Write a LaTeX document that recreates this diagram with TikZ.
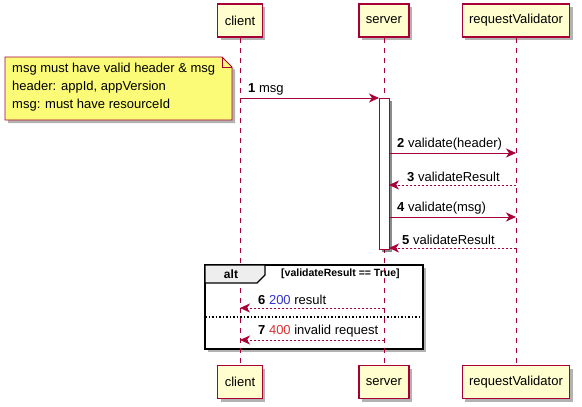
\documentclass[tikz,border=0pt]{standalone}
\usepackage{fontspec}
\setmainfont{Liberation Sans}
\usetikzlibrary{arrows.meta,shadows,calc}
\definecolor{umlRed}{HTML}{A80036}
\definecolor{umlBox}{HTML}{FEFECE}
\definecolor{umlNote}{HTML}{FBFB77}
\definecolor{umlTab}{HTML}{EEEEEE}
\definecolor{okBlue}{HTML}{3333CC}
\definecolor{errRed}{HTML}{DD3333}

\tikzset{
  umlshadow/.style={drop shadow={shadow xshift=3pt,shadow yshift=-3pt,opacity=0.3,fill=black}},
  partbox/.style={draw=umlRed,line width=1.2,fill=umlBox,minimum height=33,inner xsep=7,inner ysep=0,
    font=\fontsize{13}{15}\selectfont,umlshadow},
  lifeline/.style={umlRed,line width=0.8,dash pattern=on 5 off 5},
  callmsg/.style={umlRed,line width=0.9,-{Stealth[length=10,width=9,inset=3]}},
  retmsg/.style={callmsg,dash pattern=on 2 off 2},
  msglabel/.style={anchor=south west,inner sep=1,font=\fontsize{13}{15}\selectfont},
}

\begin{document}
\begin{tikzpicture}[x=1pt,y=-1pt]
\useasboundingbox (0,0) rectangle (582,407);

% alt frame (under the lifelines)
\draw [line width=1.5,fill=white,umlshadow] (205,265) rectangle (423,349);

% participants, top and bottom
\node [partbox] (client) at (240,20.5) {client};
\node [partbox] (server) at (384,20.5) {server};
\node [partbox] (validator) at (516,20.5) {requestValidator};
\node [partbox] (clientB) at (240,382) {client};
\node [partbox] (serverB) at (384,382) {server};
\node [partbox] (validatorB) at (516,382) {requestValidator};

% lifelines
\draw [lifeline] (client.south) -- (clientB.north);
\draw [lifeline] (server.south) -- (serverB.north);
\draw [lifeline] (validator.south) -- (validatorB.north);

% note
\draw [umlRed,line width=0.8,fill=umlNote,umlshadow] (5,57) -- (222,57) -- (232,67) -- (232,120) -- (5,120) -- cycle;
\draw [umlRed,line width=0.8] (222,57) -- (222,67) -- (232,67);
\node [anchor=north west,inner sep=0,align=left,font=\fontsize{13}{18}\selectfont] (note) at (12,63)
  {msg must have valid header \& msg\\header: appId, appVersion\\msg: must have resourceId};

% activation of server
\node [draw=umlRed,line width=0.9,fill=white,minimum width=10,minimum height=151,inner sep=0,
  drop shadow={shadow xshift=3pt,shadow yshift=-3pt,opacity=0.45,fill=black}] (act) at (384,173.5) {};

% message ends
\coordinate (c1) at (240,98);
\coordinate (s1) at (379,98);
\coordinate (s2) at (389,153);
\coordinate (v2) at (516,153);
\coordinate (s3) at (389,185);
\coordinate (v3) at (516,185);
\coordinate (s4) at (389,217);
\coordinate (v4) at (516,217);
\coordinate (s5) at (389,248);
\coordinate (v5) at (516,248);
\coordinate (s6) at (384,308);
\coordinate (c6) at (240,308);
\coordinate (s7) at (384,340);
\coordinate (c7) at (240,340);

% alt tab, guard and separator
\draw [line width=1.2,fill=umlTab] (205,265) -- (265,265) -- (265,275) -- (257,283) -- (205,283) -- cycle;
\node [inner sep=0,font=\bfseries\fontsize{12}{14}\selectfont] (altlabel) at (231,274) {alt};
\node [anchor=west,inner sep=0,font=\bfseries\fontsize{10.5}{12}\selectfont] (guard) at (281,274) {[validateResult == True]};
\draw [line width=1.2,dash pattern=on 1.5 off 2] (205,317) -- (423,317);

% messages
\draw [callmsg] (c1) -- (s1);
\node [msglabel] at ($(c1)+(7,-2)$) {\textbf{1} msg};
\draw [callmsg] (s2) -- (v2);
\node [msglabel] at ($(s2)+(7,-2)$) {\textbf{2} validate(header)};
\draw [retmsg] (v3) -- (s3);
\node [msglabel] at ($(s3)+(17,-2)$) {\textbf{3} validateResult};
\draw [callmsg] (s4) -- (v4);
\node [msglabel] at ($(s4)+(7,-2)$) {\textbf{4} validate(msg)};
\draw [retmsg] (v5) -- (s5);
\node [msglabel] at ($(s5)+(12,-2)$) {\textbf{5} validateResult};
\draw [retmsg] (s6) -- (c6);
\node [msglabel] at ($(c6)+(17,-2)$) {\textbf{6} \textcolor{okBlue}{200} result};
\draw [retmsg] (s7) -- (c7);
\node [msglabel] at ($(c7)+(17,-2)$) {\textbf{7} \textcolor{errRed}{400} invalid request};
\end{tikzpicture}
\end{document}
